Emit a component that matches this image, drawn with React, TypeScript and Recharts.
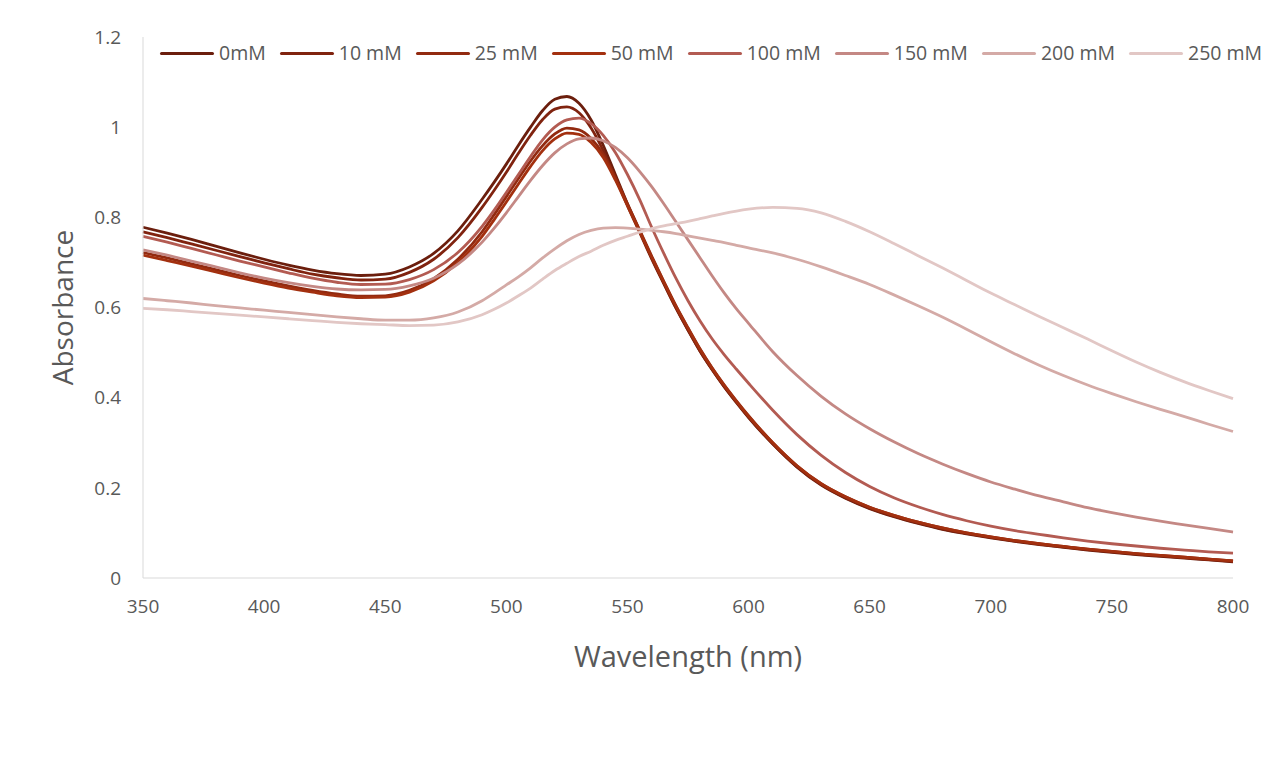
import React from "react";
import { LineChart, Line, XAxis, YAxis, Legend } from "recharts";

// wavelength grid (nm) — denser around the plasmon peak
const WAVELENGTHS = [
  350, 360, 370, 380, 390, 400, 410, 420, 430, 440, 450, 460, 470, 480, 490,
  495, 500, 505, 510, 515, 520, 525, 530, 535, 540, 545, 550, 555, 560, 565,
  570, 575, 580, 585, 590, 595, 600, 610, 620, 630, 640, 650, 660, 670, 680,
  690, 700, 710, 720, 730, 740, 750, 760, 770, 780, 790, 800,
];

const ABS_0 = [
  0.778, 0.765, 0.751, 0.736, 0.721, 0.707, 0.694, 0.683, 0.675, 0.671, 0.674, 0.69, 0.72, 0.77, 0.84,
  0.878, 0.918, 0.96, 1.0, 1.037, 1.062, 1.068, 1.053, 1.016, 0.96, 0.895, 0.83, 0.77, 0.71, 0.654,
  0.6, 0.55, 0.503, 0.462, 0.424, 0.389, 0.356, 0.297, 0.246, 0.206, 0.177, 0.154, 0.136, 0.121, 0.108,
  0.098, 0.089, 0.081, 0.074, 0.068, 0.062, 0.057, 0.052, 0.048, 0.044, 0.04, 0.036,
];
const ABS_10 = [
  0.768, 0.755, 0.741, 0.727, 0.713, 0.699, 0.686, 0.674, 0.666, 0.661, 0.663, 0.678, 0.707, 0.755, 0.822,
  0.86, 0.9, 0.942, 0.982, 1.017, 1.04, 1.045, 1.032, 0.998, 0.948, 0.888, 0.826, 0.767, 0.708, 0.653,
  0.599, 0.55, 0.503, 0.462, 0.424, 0.39, 0.357, 0.298, 0.247, 0.207, 0.178, 0.155, 0.137, 0.122, 0.109,
  0.099, 0.09, 0.082, 0.075, 0.069, 0.063, 0.058, 0.053, 0.049, 0.045, 0.041, 0.037,
];
const ABS_25 = [
  0.722, 0.71, 0.697, 0.684, 0.671, 0.659, 0.648, 0.638, 0.63, 0.625, 0.626, 0.638, 0.664, 0.707, 0.768,
  0.806, 0.846, 0.886, 0.925, 0.959, 0.985, 0.998, 0.994, 0.975, 0.94, 0.888, 0.83, 0.772, 0.714, 0.658,
  0.604, 0.555, 0.508, 0.466, 0.428, 0.393, 0.36, 0.3, 0.249, 0.209, 0.18, 0.157, 0.139, 0.124, 0.111,
  0.1, 0.091, 0.083, 0.076, 0.07, 0.064, 0.059, 0.054, 0.05, 0.046, 0.042, 0.038,
];
const ABS_50 = [
  0.716, 0.704, 0.692, 0.679, 0.666, 0.654, 0.643, 0.634, 0.626, 0.622, 0.623, 0.634, 0.659, 0.7, 0.758,
  0.795, 0.834, 0.874, 0.913, 0.948, 0.974, 0.987, 0.984, 0.966, 0.933, 0.883, 0.826, 0.769, 0.712, 0.657,
  0.603, 0.554, 0.507, 0.465, 0.427, 0.392, 0.359, 0.3, 0.249, 0.209, 0.18, 0.157, 0.139, 0.124, 0.111,
  0.1, 0.091, 0.083, 0.076, 0.07, 0.064, 0.059, 0.054, 0.05, 0.046, 0.042, 0.038,
];
const ABS_100 = [
  0.758, 0.745, 0.731, 0.717, 0.703, 0.69, 0.677, 0.665, 0.656, 0.651, 0.652, 0.662, 0.684, 0.722, 0.78,
  0.816, 0.855, 0.895, 0.935, 0.972, 1.0, 1.016, 1.02, 1.008, 0.982, 0.944, 0.895, 0.84, 0.778, 0.72,
  0.665, 0.615, 0.57, 0.53, 0.495, 0.463, 0.432, 0.372, 0.318, 0.272, 0.234, 0.203, 0.178, 0.158, 0.141,
  0.127, 0.115, 0.105, 0.097, 0.089, 0.082, 0.076, 0.071, 0.066, 0.062, 0.058, 0.055,
];
const ABS_150 = [
  0.728, 0.716, 0.703, 0.69, 0.677, 0.665, 0.655, 0.647, 0.641, 0.639, 0.64, 0.648, 0.665, 0.696, 0.745,
  0.776, 0.81, 0.846, 0.882, 0.915, 0.943, 0.963, 0.974, 0.976, 0.97, 0.955, 0.932, 0.902, 0.868, 0.83,
  0.79, 0.75, 0.71, 0.67, 0.632, 0.597, 0.565, 0.502, 0.449, 0.403, 0.364, 0.331, 0.302, 0.276, 0.253,
  0.232, 0.213, 0.197, 0.182, 0.169, 0.156, 0.145, 0.135, 0.126, 0.118, 0.11, 0.102,
];
const ABS_200 = [
  0.62, 0.615, 0.61, 0.604, 0.599, 0.594, 0.589, 0.584, 0.579, 0.575, 0.572, 0.572, 0.577, 0.59, 0.615,
  0.632, 0.65, 0.668, 0.688, 0.71, 0.73, 0.748, 0.762, 0.771, 0.776, 0.777, 0.776, 0.774, 0.771, 0.768,
  0.764, 0.759, 0.754, 0.749, 0.744, 0.738, 0.732, 0.721, 0.707, 0.69, 0.671, 0.651, 0.628, 0.604, 0.579,
  0.552, 0.524, 0.497, 0.472, 0.449, 0.428, 0.409, 0.391, 0.374, 0.358, 0.341, 0.325,
];
const ABS_250 = [
  0.598, 0.595, 0.591, 0.587, 0.583, 0.579, 0.575, 0.571, 0.567, 0.564, 0.562, 0.56, 0.561, 0.568, 0.584,
  0.596, 0.61, 0.626, 0.643, 0.663, 0.682, 0.698, 0.713, 0.725, 0.738, 0.749, 0.758, 0.767, 0.775, 0.781,
  0.786, 0.791, 0.797, 0.803, 0.809, 0.814, 0.818, 0.822, 0.82, 0.81, 0.791, 0.768, 0.742, 0.715, 0.688,
  0.66, 0.632, 0.606, 0.58, 0.555, 0.53, 0.504, 0.479, 0.456, 0.435, 0.416, 0.398,
];

const SERIES = [
  { key: "c0", name: "0mM", color: "#6b1e0d", values: ABS_0 },
  { key: "c10", name: "10 mM", color: "#80230f", values: ABS_10 },
  { key: "c25", name: "25 mM", color: "#922a10", values: ABS_25 },
  { key: "c50", name: "50 mM", color: "#a3300f", values: ABS_50 },
  { key: "c100", name: "100 mM", color: "#b35b52", values: ABS_100 },
  { key: "c150", name: "150 mM", color: "#c48884", values: ABS_150 },
  { key: "c200", name: "200 mM", color: "#d4aaa6", values: ABS_200 },
  { key: "c250", name: "250 mM", color: "#e2c7c5", values: ABS_250 },
];

const X_TICKS = [350, 400, 450, 500, 550, 600, 650, 700, 750, 800];
const Y_TICKS = [0, 0.2, 0.4, 0.6, 0.8, 1, 1.2];

const TEXT = "#595959";
const AXIS = "#d9d9d9";

const data = WAVELENGTHS.map((wl, i) => {
  const row: Record<string, number> = { wl };
  SERIES.forEach((s) => {
    row[s.key] = s.values[i];
  });
  return row;
});

function YTitle({ viewBox }: any) {
  const cx = viewBox.x + 54;
  const cy = viewBox.y + viewBox.height / 2;
  return (
    <text
      x={cx}
      y={cy}
      fill={TEXT}
      fontSize={28}
      textAnchor="middle"
      dominantBaseline="central"
      transform={`rotate(-90, ${cx}, ${cy})`}
    >
      Absorbance
    </text>
  );
}

function XTitle({ viewBox }: any) {
  return (
    <text
      x={viewBox.x + viewBox.width / 2}
      y={viewBox.y + 77}
      fill={TEXT}
      fontSize={29}
      textAnchor="middle"
      dominantBaseline="central"
    >
      Wavelength (nm)
    </text>
  );
}

function LegendRow() {
  return (
    <div style={{ display: "flex", alignItems: "center", height: 24, whiteSpace: "nowrap" }}>
      {SERIES.map((s) => (
        <div key={s.key} style={{ display: "flex", alignItems: "center", marginRight: 14, flexShrink: 0 }}>
          <span
            style={{
              display: "inline-block",
              width: 54,
              height: 3,
              borderRadius: 2,
              background: s.color,
            }}
          />
          <span style={{ marginLeft: 5, fontSize: 19.5, color: TEXT, lineHeight: "24px" }}>{s.name}</span>
        </div>
      ))}
    </div>
  );
}

export default function App() {
  return (
    <div
      style={{
        position: "relative",
        width: 1273,
        height: 760,
        margin: "-1px 0 0 -1px",
        border: `1px solid ${AXIS}`,
        boxSizing: "border-box",
        background: "#fff",
        fontFamily: "'Open Sans', 'Liberation Sans', Arial, sans-serif",
      }}
    >
      <LineChart
        width={1271}
        height={740}
        data={data}
        margin={{ top: 29, right: 46, left: 0, bottom: 80 }}
      >
        <XAxis
          dataKey="wl"
          type="number"
          domain={[350, 800]}
          ticks={X_TICKS}
          height={90}
          tickLine={false}
          tickSize={6}
          tickMargin={16}
          axisLine={{ stroke: AXIS, strokeWidth: 1 }}
          tick={{ fill: TEXT, fontSize: 19 }}
          label={<XTitle />}
        />
        <YAxis
          type="number"
          domain={[0, 1.2]}
          ticks={Y_TICKS}
          width={135}
          tickLine={false}
          tickSize={6}
          tickMargin={16}
          axisLine={{ stroke: AXIS, strokeWidth: 1 }}
          tick={{ fill: TEXT, fontSize: 19 }}
          label={<YTitle />}
        />
        <Legend
          layout="horizontal"
          verticalAlign="middle"
          align="center"
          wrapperStyle={{ top: 33, left: 152, width: 1115 }}
          content={() => <LegendRow />}
        />
        {SERIES.map((s) => (
          <Line
            key={s.key}
            dataKey={s.key}
            name={s.name}
            type="monotone"
            stroke={s.color}
            strokeWidth={2.8}
            dot={false}
            isAnimationActive={false}
          />
        ))}
      </LineChart>
    </div>
  );
}
